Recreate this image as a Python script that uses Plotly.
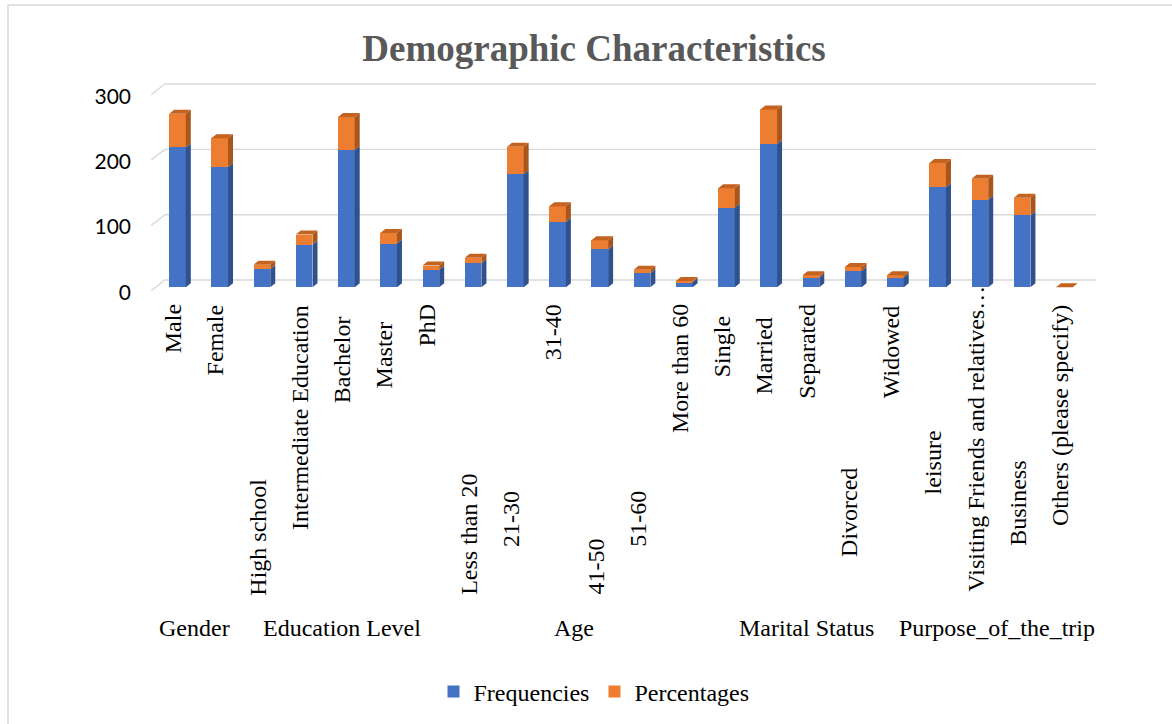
import plotly.graph_objects as go

# ---------------- data ----------------
categories = ["Male", "Female", "High school", "Intermediate Education", "Bachelor", "Master", "PhD",
              "Less than 20", "21-30", "31-40", "41-50", "51-60", "More than 60",
              "Single", "Married", "Separated", "Divorced", "Widowed",
              "leisure", "Visiting Friends and relatives…", "Business", "Others (please specify)"]
groups = ["Gender", "Education Level", "Age", "Marital Status", "Purpose_of_the_trip"]
group_sizes = [2, 5, 6, 5, 4]
frequencies = [214, 184, 28, 65, 210, 67, 27, 37, 173, 100, 58, 22, 8,
               122, 219, 15, 25, 15, 153, 134, 110, 0]
percentages = [51.6, 44.3, 6.7, 15.7, 50.6, 16.2, 6.3, 8.3, 42.0, 24.1, 13.9, 5.0, 1.8,
               29.7, 53.2, 3.6, 6.0, 3.4, 37.3, 32.2, 27.0, 0.0]
y_ticks = [0, 100, 200, 300]

# ---------------- layout constants (pixels) ----------------
W, H = 1172, 724
ML, MR, MT, MB = 150, 76, 80, 431
PW, PH = W - ML - MR, H - MT - MB
X_RANGE = [-0.65, 21.75]
Y_RANGE = [-8.7, 317.3]
BAR_W = 0.395
DX = 5 / (PW / (X_RANGE[1] - X_RANGE[0]))      # 3D depth in x units
DY = 4 / (PH / (Y_RANGE[1] - Y_RANGE[0]))      # 3D depth in y units
BACK_DY = 7.3 / (PH / (Y_RANGE[1] - Y_RANGE[0]))
LABEL_SHIFT = -0.1
# vertical centre (px) of each rotated category label (Excel staggering)
label_mid_px = [329, 340, 537, 417, 360, 355, 325, 534, 519, 332, 567, 519, 369,
                347, 356, 351, 512, 352, 462, 439, 503, 416]
GROUP_LABEL_PX = 628

FONT = "Liberation Serif, Times New Roman, serif"
BLUE, BLUE_SIDE = "#4472C4", "#2F528F"
ORANGE, ORANGE_SIDE, ORANGE_TOP = "#ED7D31", "#A9561D", "#C4621F"
GRID = "#D9D9D9"


def px_x(p):
    return (p - ML) / PW


def px_y(p):
    return (H - MB - p) / PH


xs = list(range(len(categories)))
blue_base = [0] * len(xs)
orange_base = list(frequencies)
blue_top = [b + v for b, v in zip(blue_base, frequencies)]
orange_top = [b + v for b, v in zip(orange_base, percentages)]


def side_poly(bases, tops):
    px, py = [], []
    for i, b, t in zip(xs, bases, tops):
        xr = i + BAR_W / 2
        px += [xr, xr + DX, xr + DX, xr, xr, None]
        py += [b, b + DY, t + DY, t, b, None]
    return px, py


def top_poly(tops):
    px, py = [], []
    for i, t in zip(xs, tops):
        xl, xr = i - BAR_W / 2, i + BAR_W / 2
        px += [xl, xl + DX, xr + DX, xr, xl, None]
        py += [t, t + DY, t + DY, t, t, None]
    return px, py


fig = go.Figure()
fig.add_trace(go.Bar(x=xs, y=frequencies, base=blue_base, width=BAR_W, name="Frequencies",
                     marker=dict(color=BLUE, line=dict(width=0))))
fig.add_trace(go.Bar(x=xs, y=percentages, base=orange_base, width=BAR_W, name="Percentages",
                     marker=dict(color=ORANGE, line=dict(width=0))))

sx, sy = side_poly(blue_base, blue_top)
fig.add_trace(go.Scatter(x=sx, y=sy, mode="lines", fill="toself", fillcolor=BLUE_SIDE,
                         line=dict(width=0), showlegend=False, hoverinfo="skip"))
sx, sy = side_poly(orange_base, orange_top)
fig.add_trace(go.Scatter(x=sx, y=sy, mode="lines", fill="toself", fillcolor=ORANGE_SIDE,
                         line=dict(width=0), showlegend=False, hoverinfo="skip"))
tx, ty = top_poly(orange_top)
fig.add_trace(go.Scatter(x=tx, y=ty, mode="lines", fill="toself", fillcolor=ORANGE_TOP,
                         line=dict(width=0), showlegend=False, hoverinfo="skip"))

shapes = []
# back-wall gridlines with left side-wall stubs
for v in y_ticks:
    shapes.append(dict(type="line", xref="x", yref="y", x0=-0.30, x1=X_RANGE[1],
                       y0=v + BACK_DY, y1=v + BACK_DY, line=dict(color=GRID, width=1.4), layer="below"))
    shapes.append(dict(type="line", xref="x", yref="y", x0=-0.62, x1=-0.30,
                       y0=v - 5.2, y1=v + BACK_DY, line=dict(color=GRID, width=1.4), layer="below"))
# chart border
shapes.append(dict(type="rect", xref="paper", yref="paper", x0=px_x(8), x1=px_x(1180),
                   y0=px_y(730), y1=px_y(5), line=dict(color=GRID, width=1.5),
                   fillcolor="rgba(0,0,0,0)", layer="below"))

annotations = []
for i, (lab, mid) in enumerate(zip(categories, label_mid_px)):
    annotations.append(dict(x=i + LABEL_SHIFT, xref="x", y=px_y(mid), yref="paper",
                            text=lab, textangle=-90, showarrow=False,
                            xanchor="center", yanchor="middle",
                            font=dict(family=FONT, size=24, color="#000000")))
start = 0
for g, n in zip(groups, group_sizes):
    centre = start + (n - 1) / 2 + LABEL_SHIFT
    annotations.append(dict(x=centre, xref="x", y=px_y(GROUP_LABEL_PX), yref="paper",
                            text=g, showarrow=False, xanchor="center", yanchor="middle",
                            font=dict(family=FONT, size=24, color="#000000")))
    start += n

fig.update_layout(
    width=W, height=H,
    margin=dict(l=ML, r=MR, t=MT, b=MB, pad=0),
    paper_bgcolor="white", plot_bgcolor="white",
    barmode="overlay", bargap=0,
    title=dict(text="<b>Demographic Characteristics</b>", x=594 / W, xref="container",
               y=1 - 48 / H, yref="container", xanchor="center", yanchor="middle",
               font=dict(family=FONT, size=37, color="#595959")),
    xaxis=dict(range=X_RANGE, showgrid=False, zeroline=False, showticklabels=False,
               showline=False, ticks=""),
    yaxis=dict(range=Y_RANGE, tickvals=y_ticks, showgrid=False, zeroline=False,
               showline=False, ticks="", ticklabelstandoff=18, ticklabelshift=5,
               tickfont=dict(family="Lato, Open Sans, sans-serif", size=21, color="#000000")),
    legend=dict(orientation="h", xref="paper", x=px_x(594), xanchor="center",
                yref="container", y=1 - 692 / H, yanchor="middle",
                font=dict(family=FONT, size=24, color="#000000"),
                itemwidth=30, traceorder="normal", bgcolor="rgba(0,0,0,0)"),
    shapes=shapes,
    annotations=annotations,
    showlegend=True,
)

fig.write_html("out.html")
